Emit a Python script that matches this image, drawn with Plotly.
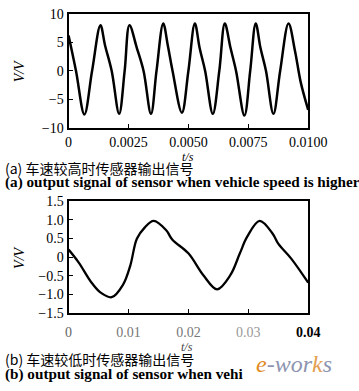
import plotly.graph_objects as go

# (a) high vehicle speed: time (s), voltage (V)
t_high = [0.0, 0.00031, 0.00066, 0.00098, 0.00133, 0.00152, 0.00180, 0.00211, 0.00234, 0.00254,
          0.00285, 0.00313, 0.00344, 0.00367, 0.00395, 0.00414, 0.00434, 0.00473, 0.00500, 0.00527,
          0.00547, 0.00570, 0.00602, 0.00629, 0.00652, 0.00676, 0.00699, 0.00734, 0.00758, 0.00781,
          0.00801, 0.00824, 0.00855, 0.00883, 0.00918, 0.00945, 0.00969, 0.0100]
v_high = [6.2, 0.0, -7.6, 0.0, 8.0, 4.5, 0.0, -7.5, 0.0, 8.0,
          4.0, 0.0, -7.5, 0.0, 8.3, 4.5, 0.0, -7.3, 0.0, 8.3,
          4.0, 0.0, -7.5, 0.0, 8.3, 4.0, 0.0, -7.8, 0.0, 8.3,
          4.0, 0.0, -7.5, 0.0, 8.3, 3.5, -2.0, -6.8]

# (b) low vehicle speed
t_low = [0.0, 0.0017, 0.00375, 0.0053, 0.0072, 0.0091, 0.0103, 0.0114, 0.0127, 0.0142,
         0.0163, 0.0173, 0.0200, 0.0225, 0.0248, 0.0270, 0.0286, 0.0298, 0.0319, 0.0341,
         0.0350, 0.0372, 0.0400]
v_low = [0.2, -0.15, -0.67, -0.95, -1.08, -0.74, -0.23, 0.49, 0.79, 0.97,
         0.72, 0.47, 0.10, -0.49, -0.87, -0.49, 0.10, 0.54, 0.97, 0.62,
         0.36, -0.05, -0.69]

ticks_high = [0, 0.0025, 0.005, 0.0075, 0.01]
ticklabels_high = ["0", "0.0025", "0.0050", "0.0075", "0.0100"]
yticks_high = [-10, -5, 0, 5, 10]
yticklabels_high = ["\u221210", "\u22125", "0", "5", "10"]
ticks_low = [0, 0.01, 0.02, 0.03, 0.04]
ticklabels_low = ["<span style='color:#666'>0</span>", "<span style='color:#777'>0.01</span>",
                  "<span style='color:#777'>0.02</span>", "<span style='color:#999'>0.03</span>",
                  "<b>0.04</b>"]
yticks_low = [-1.5, -1.0, -0.5, 0, 0.5, 1.0, 1.5]
yticklabels_low = ["\u22121.5", "\u22121.0", "\u22120.5", "0", "0.5", "1.0", "1.5"]

W, H = 359, 391
FONT = "Liberation Serif"
CJK = "Noto Sans CJK SC"

def px(x):
    return x / W

def py(y):
    return 1 - y / H

fig = go.Figure()
fig.add_trace(go.Scatter(x=t_high, y=v_high, mode="lines", xaxis="x", yaxis="y",
                         line=dict(color="black", width=2.5, shape="spline", smoothing=1.0)))
fig.add_trace(go.Scatter(x=t_low, y=v_low, mode="lines", xaxis="x2", yaxis="y2",
                         line=dict(color="black", width=2.3, shape="spline", smoothing=1.0)))

axis_common = dict(showgrid=False, zeroline=False, showline=True, linecolor="black", linewidth=2,
                   mirror=True, ticks="inside", ticklen=4, tickcolor="black",
                   tickfont=dict(family=FONT, size=14, color="black"))

fig.update_layout(
    width=W, height=H, margin=dict(l=0, r=0, t=0, b=0),
    paper_bgcolor="white", plot_bgcolor="white", showlegend=False,
    xaxis=dict(domain=[px(69), px(325)], range=[0, 0.01], anchor="y",
               tickvals=ticks_high, ticktext=ticklabels_high, **axis_common),
    yaxis=dict(domain=[py(126), py(7)], range=[-10, 10], anchor="x",
               tickvals=yticks_high, ticktext=yticklabels_high, **axis_common),
    xaxis2=dict(domain=[px(69), px(325)], range=[0, 0.04], anchor="y2", ticklabelstandoff=5,
                tickvals=ticks_low, ticktext=ticklabels_low, **axis_common),
    yaxis2=dict(domain=[py(318), py(202)], range=[-1.5, 1.5], anchor="x2",
                tickvals=yticks_low, ticktext=yticklabels_low, **axis_common),
)

def note(text, x, y, size=13, xanchor="left", angle=0, italic=False, color="black", family=FONT):
    fig.add_annotation(text=text, x=px(x), y=py(y), xref="paper", yref="paper",
                       xanchor=xanchor, yanchor="middle", showarrow=False, textangle=angle,
                       borderpad=0,
                       font=dict(family=family, size=size, color=color,
                                 style="italic" if italic else "normal"))

note("V/V", 17, 67, size=14, xanchor="center", angle=-90, italic=True)
note("t/s", 197, 156, size=12, xanchor="center", italic=True)
note("(a) 车速较高时传感器输出信号", 0, 167, size=14, family=CJK)
note("<b>(a) output signal of sensor when vehicle speed is higher</b>", 0, 182, size=15.2)

note("V/V", 17, 261, size=14, xanchor="center", angle=-90, italic=True)
note("t/s", 195, 354, size=12, xanchor="center", italic=True, color="#444")
note("(b) 车速较低时传感器输出信号", 0, 366, size=14, family=CJK)
note("<b>(b) output signal of sensor when vehi</b>", 0, 382, size=15.2)

fig.add_annotation(text="<span style='color:#e2891c'>e</span>-wor<span style='color:#e2a050'>k</span>s",
                   x=px(310), y=py(371),
                   xref="paper", yref="paper", xanchor="center", yanchor="middle", showarrow=False,
                   borderpad=0,
                   font=dict(family=FONT, size=24, color="#8e94b0", style="italic"))

fig.write_html("out.html")
